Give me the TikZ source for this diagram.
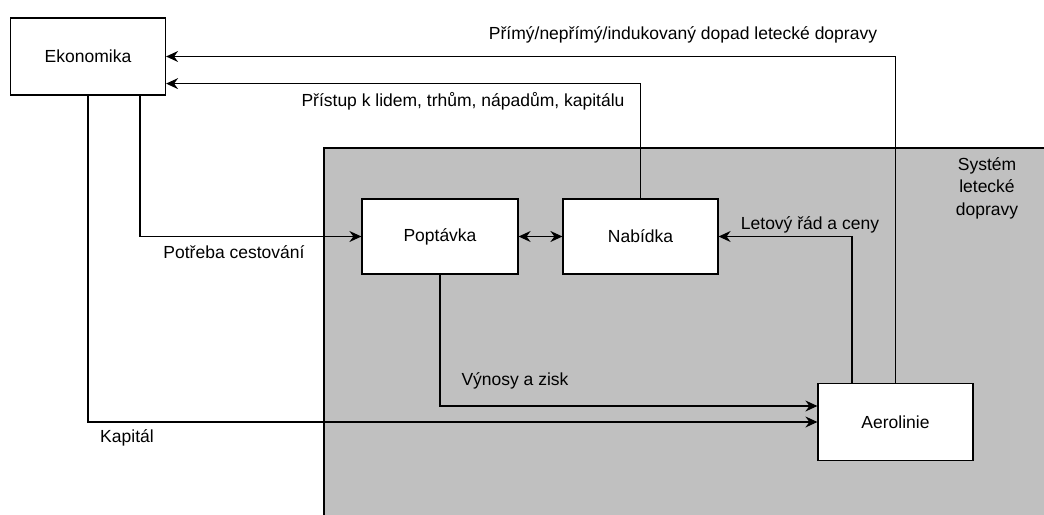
\documentclass[tikz,border=0pt]{standalone}
\usepackage{fontspec}
\setmainfont{Liberation Sans}
\usetikzlibrary{arrows.meta,calc}
\definecolor{sysgray}{HTML}{C0C0C0}
\tikzset{
  box/.style={draw=black, line width=1.2pt, fill=white, minimum width=155pt, minimum height=76pt, inner sep=0pt, font=\fontsize{17.5}{20}\selectfont},
  conn/.style={draw=black, line width=1.2pt, -{Stealth[length=12pt,width=11pt,inset=4pt]}},
  dconn/.style={draw=black, line width=1.2pt, {Stealth[length=12pt,width=11pt,inset=4pt]}-{Stealth[length=12pt,width=11pt,inset=4pt]}},
  lbl/.style={inner sep=0pt, font=\fontsize{17.5}{20}\selectfont}
}
\begin{document}
\begin{tikzpicture}[x=1pt,y=-1pt]
\useasboundingbox (0,0) rectangle (1044,514);
\clip (0,0) rectangle (1044,514);
% system region
\draw[fill=sysgray, draw=black, line width=1.2pt] (324,148) rectangle (1060,530);
\node[lbl, align=center, font=\fontsize{17.5}{22.5}\selectfont] (sys) at (987,188) {Systém\\letecké\\dopravy};
% boxes
\node[box, minimum height=77pt] (eko) at (88,56.5) {Ekonomika};
\node[box, minimum width=156pt, minimum height=75pt] (pop) at (440,236.5) {Poptávka};
\node[box, minimum height=75pt] (nab) at (640.5,236.5) {Nabídka};
\node[box, minimum height=77pt] (aero) at (895.5,422) {Aerolinie};
% connectors
\draw[conn] (aero.north) |- (eko.east);
\draw[conn] (nab.north) |- ([yshift=12pt]eko.south east);
\draw[conn] ([xshift=52pt]eko.south) |- (pop.west);
\draw[conn] ([xshift=-43.5pt]aero.north) |- (nab.east);
\draw[conn] (pop.south) |- ([yshift=16pt]aero.west);
\draw[conn] (eko.south) |- (aero.west);
\draw[dconn] (pop.east) -- (nab.west);
% labels
\node[lbl] (l1) at (683,35) {Přímý/nepřímý/indukovaný dopad letecké dopravy};
\node[lbl] (l2) at (463,101) {Přístup k lidem, trhům, nápadům, kapitálu};
\node[lbl] (l3) at (234,252) {Potřeba cestování};
\node[lbl] (l4) at (810,225) {Letový řád a ceny};
\node[lbl] (l5) at (515,381) {Výnosy a zisk};
\node[lbl] (l6) at (127,438) {Kapitál};
\end{tikzpicture}
\end{document}
